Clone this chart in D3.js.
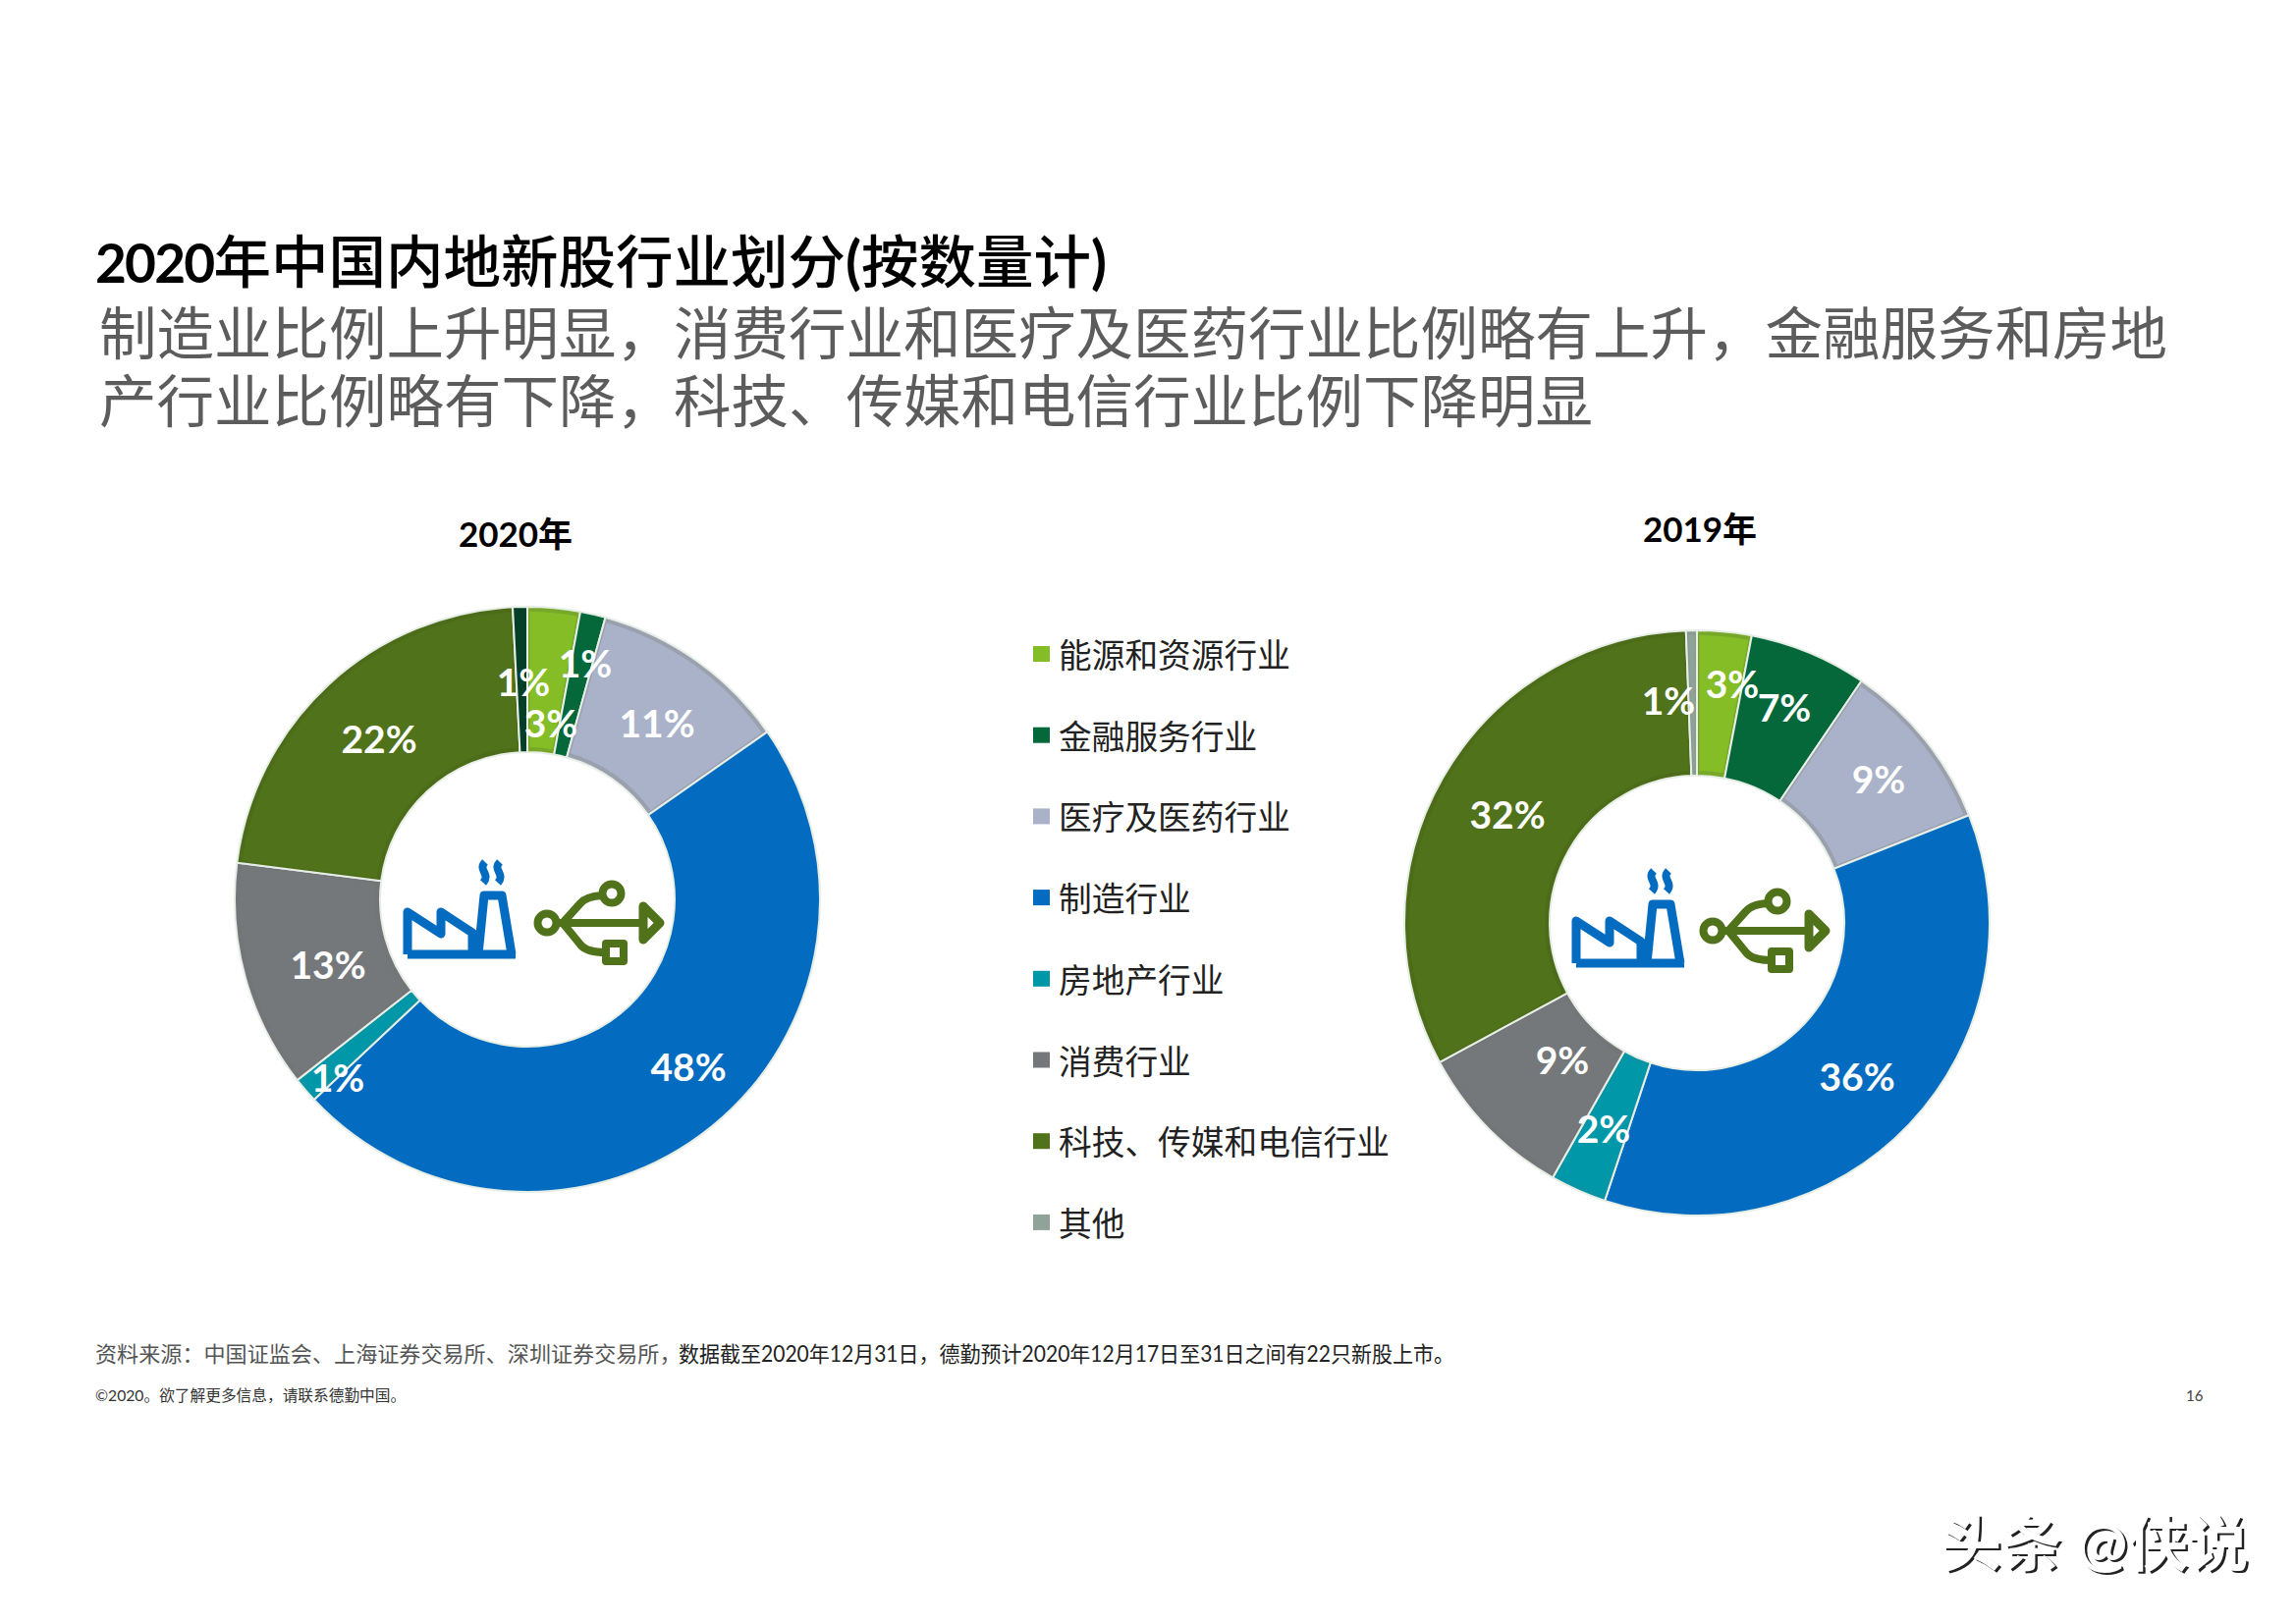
<!DOCTYPE html>
<html><head><meta charset="utf-8">
<script src="https://cdnjs.cloudflare.com/ajax/libs/d3/7.8.5/d3.min.js"></script>
<style>html,body{margin:0;padding:0;background:#fff}svg{display:block}
text{font-family:"Lato","Noto Sans CJK SC",sans-serif}</style></head>
<body><div id="chart"></div>
<script>
// ---------- data ----------
const categories = ["能源和资源行业","金融服务行业","医疗及医药行业","制造行业","房地产行业","消费行业","科技、传媒和电信行业","其他"];
const values2020 = [2.9,1.4,11,47.7,1.4,12.6,22.2,0.8];
const values2019 = [3,6.5,9.5,36.1,3.1,8.9,32.3,0.6];
const labels2020 = ["3%","1%","11%","48%","1%","13%","22%","1%"];
const labels2019 = ["3%","7%","9%","36%","2%","9%","32%","1%"];
const titleBold = "2020";
const titleRest = "年中国内地新股行业划分";
const subtitleLines = ["制造业比例上升明显，消费行业和医疗及医药行业比例略有上升，金融服务和房地","产行业比例略有下降，科技、传媒和电信行业比例下降明显"];
const sourceA = "资料来源：中国证监会、上海证券交易所、深圳证券交易所，";
const sourceB = "数据截至2020年12月31日，德勤预计2020年12月17日至31日之间有22只新股上市。";
const copyright = "©2020。欲了解更多信息，请联系德勤中国。";

// ---------- style / layout ----------
const fills = ["#84bd26","#04683a","#a9b2c8","#046cc0","#0097a9","#75787b","#50721a","#8fa398"];
const edges = ["#78a82a","#04683a","#9aa0ae","#046cc0","#0a93a5","#747578","#4d6c1a","#8a9a94"];
const other2020 = "#063f28";
const layout2020 = {cx:537,cy:916,title:"2020年",tx:525,ty:557,icon:[1,1,0,1],
  lab:[[24,-179],[59,-240],[132,-179],[164,171],[-193,182],[-203,67],[-151,-163],[-4,-221]]};
const layout2019 = {cx:1728,cy:940,title:"2019年",tx:1731,ty:552,icon:[0,-14,-4,-15],
  lab:[[36,-243],[89,-219],[185,-146],[163,157],[-95,210],[-137,140],[-193,-110],[-29,-226]]};
const R = 298, r = 150;

const svg = d3.select("#chart").append("svg").attr("width",2338).attr("height",1652);
svg.append("rect").attr("width",2338).attr("height",1652).attr("fill","#fff");

// titles
const t = svg.append("text").attr("x",97).attr("y",288).attr("font-size",58.5).attr("fill","#000");
t.append("tspan").attr("font-weight",700).attr("font-size",55).attr("letter-spacing",-1.8).text(titleBold);
t.append("tspan").attr("font-weight",500).text(titleRest);
t.append("tspan").attr("font-weight",700).text("(");
t.append("tspan").attr("font-weight",500).text("按数量计");
t.append("tspan").attr("font-weight",700).text(")");
svg.selectAll(".sub").data(subtitleLines).join("text").attr("class","sub")
  .attr("x",101).attr("y",(d,i)=>361+i*69).attr("font-size",58.5).attr("fill","#5c5c5c").text(d=>d);

// donuts
const pie = d3.pie().sort(null).value(d=>d);
function donut(values,labels,L,otherColor){
  const g = svg.append("g").attr("transform",`translate(${L.cx},${L.cy})`);
  const arcs = pie(values);
  const fill = i => i===7 && otherColor ? otherColor : fills[i];
  const edge = i => i===7 && otherColor ? otherColor : edges[i];
  g.selectAll(".edge").data(arcs).join("path").attr("class","edge")
    .attr("d",d3.arc().innerRadius(r).outerRadius(R))
    .attr("fill",(d,i)=>edge(i)).attr("stroke","#e6eee6").attr("stroke-width",2);
  g.selectAll(".core").data(arcs).join("path").attr("class","core")
    .attr("d",d3.arc().innerRadius(r+5).outerRadius(R-5).padAngle(0.017).padRadius(R))
    .attr("fill",(d,i)=>fill(i));
  g.selectAll(".lab").data(labels).join("text").attr("class","lab")
    .attr("x",(d,i)=>L.lab[i][0]).attr("y",(d,i)=>L.lab[i][1])
    .attr("dy","0.36em").attr("text-anchor","middle").attr("font-size",39)
    .attr("font-weight",700).attr("fill","#fff").text(d=>d);
  svg.append("text").attr("x",L.tx).attr("y",L.ty).attr("text-anchor","middle")
    .attr("font-size",35).attr("font-weight",700).attr("fill","#000").text(L.title);
  // factory icon
  const f = g.append("g").attr("transform",`translate(${L.icon[0]},${L.icon[1]})`)
    .attr("fill","none").attr("stroke","#046cc0").attr("stroke-width",9).attr("stroke-linejoin","round");
  f.append("path").attr("d","M-123,55 V12 L-89,34 V12 L-57,33 V55");
  f.append("path").attr("d","M-123,55 H-13 M-51,55 L-45,-5 H-27 L-17,55");
  f.append("path").attr("stroke-width",8).attr("d","M-44,-39 C-52,-31 -38,-27 -46,-18 M-29,-39 C-37,-31 -23,-27 -31,-18");
  // usb icon
  const u = g.append("g").attr("transform",`translate(${L.icon[2]},${L.icon[3]})`)
    .attr("fill","none").attr("stroke","#50721a").attr("stroke-width",8).attr("stroke-linejoin","round");
  u.append("circle").attr("cx",20).attr("cy",23).attr("r",9.5);
  u.append("circle").attr("cx",86).attr("cy",-7).attr("r",9.5);
  u.append("rect").attr("x",80).attr("y",44).attr("width",18).attr("height",18);
  u.append("path").attr("d","M30,23 H116 M36,23 L54,3 Q60,-4 76,-5 M36,23 L54,45 Q60,53 80,53");
  u.append("path").attr("stroke-width",9).attr("d","M118,6 L135,23 L118,40 Z");
}
donut(values2020,labels2020,layout2020,other2020);
donut(values2019,labels2019,layout2019,null);

// legend
const leg = svg.selectAll(".leg").data(categories).join("g").attr("class","leg")
  .attr("transform",(d,i)=>`translate(1052,${666+i*82.7})`);
leg.append("rect").attr("y",-8).attr("width",17).attr("height",16).attr("fill",(d,i)=>fills[i]);
leg.append("text").attr("x",26).attr("y",14).attr("font-size",33.7).attr("fill","#222").text(d=>d);

// footer
svg.append("text").attr("x",97).attr("y",1387).attr("font-size",22.1).attr("fill","#555").text(sourceA);
svg.append("text").attr("x",691).attr("y",1387).attr("font-size",22.1).attr("fill","#222")
  .attr("textLength",790).attr("lengthAdjust","spacingAndGlyphs").text(sourceB);
svg.append("text").attr("x",97).attr("y",1427).attr("font-size",15.7).attr("fill","#333").text(copyright);
svg.append("text").attr("x",2226).attr("y",1427).attr("font-size",15).attr("fill","#444").text("16");

// watermark
const wm = "头条 @侠说";
svg.append("text").attr("x",1979).attr("y",1597).attr("font-size",61.5).attr("font-weight",700).attr("fill","#222").text(wm);
svg.append("text").attr("x",1976.5).attr("y",1595).attr("font-size",61.5).attr("font-weight",700).attr("fill","#fff").text(wm);
</script></body></html>
